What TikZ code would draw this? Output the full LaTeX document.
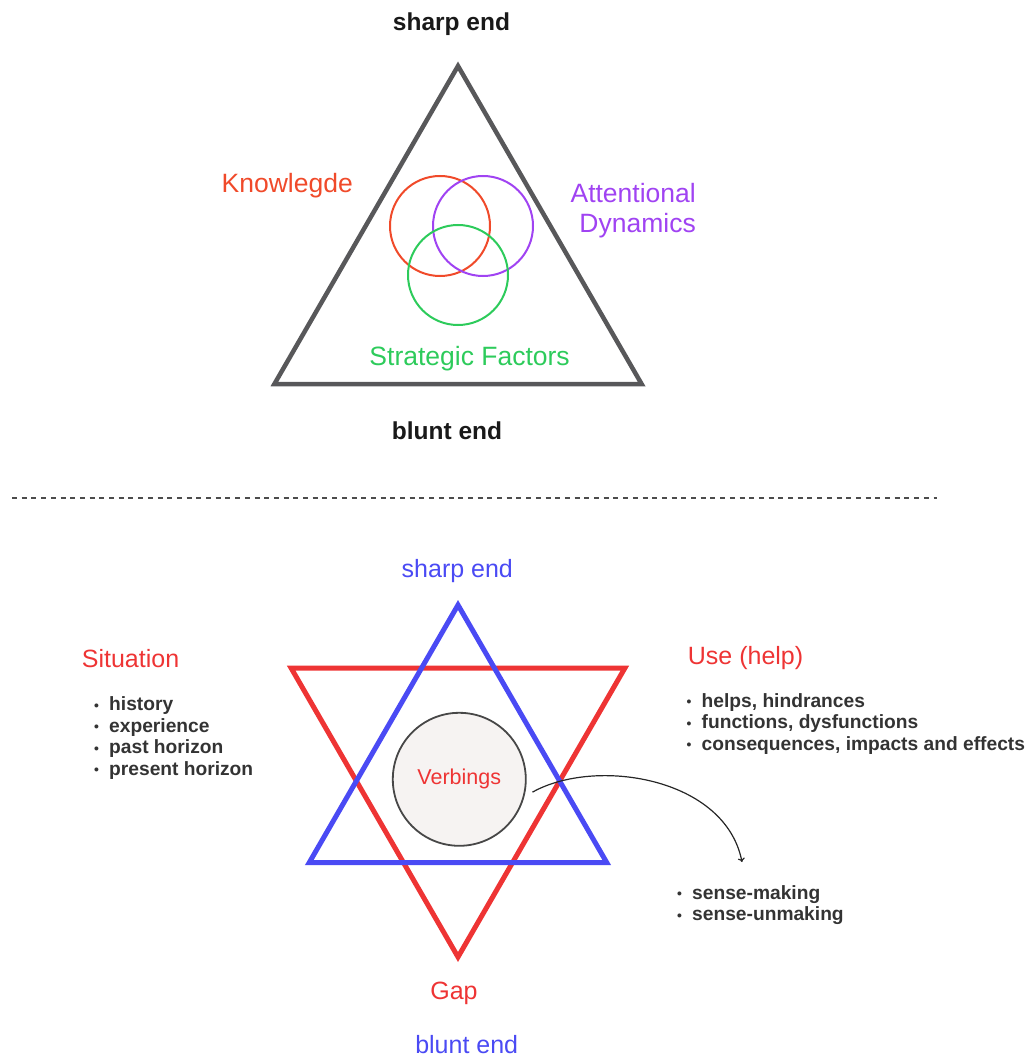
\documentclass[tikz,border=0pt]{standalone}
\usepackage{fontspec}
\setmainfont{Liberation Sans}
\usetikzlibrary{arrows.meta}
\definecolor{trigray}{HTML}{58585A}
\definecolor{knowc}{HTML}{F04A2A}
\definecolor{attnc}{HTML}{A043F2}
\definecolor{stratc}{HTML}{2DCB5B}
\definecolor{starred}{HTML}{EE3434}
\definecolor{starblue}{HTML}{4A4AF4}
\definecolor{verbfill}{HTML}{F6F3F2}
\definecolor{listc}{HTML}{333333}
\def\dgray{\draw[trigray,line width=4.5pt]}
\def\dred{\draw[starred,line width=5pt]}
\def\dblue{\draw[starblue,line width=5pt]}
\def\dvenn{\draw[line width=2pt]}
\newcommand\itm{\makebox[15pt][l]{\raisebox{0.5pt}{\scalebox{0.72}{•}}}}

\begin{document}
\begin{tikzpicture}[x=1pt,y=-1pt,
    endbold/.style={inner sep=0,font=\fontsize{24.5}{30}\selectfont\bfseries,text=black!90},
    lbl/.style={inner sep=0,font=\fontsize{25}{30}\selectfont},
    toplbl/.style={inner sep=0,font=\fontsize{26.5}{30}\selectfont},
    lst/.style={inner sep=0,anchor=west,align=left,text=listc,
      font=\fontsize{19.2}{21.5}\selectfont\bfseries},
    arr/.style={line width=1.2pt,black!85,-{To[length=4pt,width=7pt]}}]
  \useasboundingbox (0,0) rectangle (1034,1056);

  % upper triangle
  \dgray (458,66) -- (274.4,384) -- (641.6,384) -- cycle;
  \dvenn[knowc]  (440,226) circle[radius=50];
  \dvenn[attnc]  (483,226) circle[radius=50];
  \dvenn[stratc] (458,275) circle[radius=50];
  \node[endbold,anchor=base] (sharptop) at (451.5,30.5) {sharp end};
  \node[endbold,anchor=base] (blunttop) at (447,439.5) {blunt end};
  \node[toplbl,knowc,anchor=base west] (know) at (221.5,192.7) {Knowlegde};
  \node[toplbl,attnc,anchor=east,align=right] (attn) at (696,210.6) {Attentional\\Dynamics};
  \node[toplbl,stratc,anchor=base] (strat) at (469.6,365) {Strategic Factors};

  \draw[black!70,line width=1.2pt,dash pattern=on 5pt off 4.7pt] (12,498) -- (937,498);

  % star
  \dred (291.1,668) -- (624.9,668) -- (458,957) -- cycle;
  \dblue (458,605) -- (309.3,862.5) -- (606.7,862.5) -- cycle;
  \node[circle,draw=black!72,line width=1.8pt,fill=verbfill,minimum size=133pt,
    inner sep=0,text=starred,font=\fontsize{21.5}{24}\selectfont] (verb) at (459.3,779.3) {Verbings};

  \node[lbl,starblue,anchor=base] (sharpbot) at (457.3,577.3) {sharp end};
  \node[lbl,starblue,anchor=base] (bluntbot) at (466.7,1053.8) {blunt end};
  \node[lbl,starred,anchor=base] (gap) at (454,999.3) {Gap};
  \node[lbl,starred,anchor=base west] (sit) at (81.7,667.3) {Situation};
  \node[lbl,starred,anchor=base west] (use) at (687.7,664.5) {Use (help)};

  \node[lst] (sitlist) at (94,738) {\itm history\\\itm experience\\\itm past horizon\\\itm present horizon};
  \node[lst] (uselist) at (686.5,724) {\itm helps, hindrances\\\itm functions, dysfunctions\\\itm consequences, impacts and effects};
  \node[lst] (senselist) at (677,905) {\itm sense-making\\\itm sense-unmaking};

  \coordinate (tip) at (742,862);
  \draw[arr] (verb.-11) ++(7,0) .. controls (595,757) and (725,777) .. (tip);
\end{tikzpicture}
\end{document}
